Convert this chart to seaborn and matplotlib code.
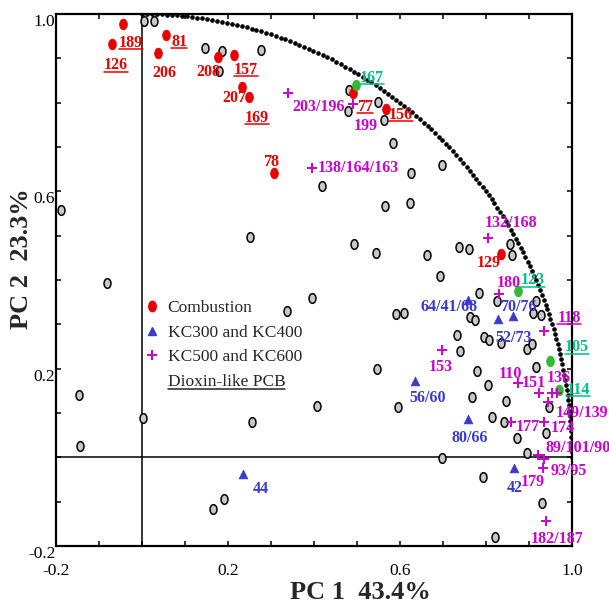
import numpy as np
import pandas as pd
import seaborn as sns
import matplotlib.pyplot as plt
from matplotlib.path import Path
from matplotlib.lines import Line2D
from matplotlib.transforms import ScaledTranslation, IdentityTransform

# %%
# loadings
comb_labels = ["189", "126", "81", "206", "208", "157", "207", "169", "78", "77", "156", "129"]
comb_pc1 = [-0.044, -0.070, 0.056, 0.037, 0.177, 0.214, 0.233, 0.249, 0.307, 0.491, 0.567, 0.835]
comb_pc2 = [0.978, 0.932, 0.953, 0.912, 0.903, 0.908, 0.835, 0.813, 0.641, 0.822, 0.786, 0.459]

green_labels = ["167", "123", "105", "114"]
green_pc1 = [0.498, 0.874, 0.949, 0.970]
green_pc2 = [0.840, 0.375, 0.217, 0.152]

kc34_labels = ["64/41/68", "70/76", "52/73", "56/60", "80/66", "42", "44"]
kc34_pc1 = [0.758, 0.863, 0.828, 0.635, 0.758, 0.865, 0.235]
kc34_pc2 = [0.355, 0.319, 0.312, 0.172, 0.086, -0.024, -0.038]

kc56_labels = ["203/196", "199", "138/164/163", "132/168", "180", "118", "153", "110",
               "151", "136", "", "149/139", "177", "174", "89/101/90", "93/95", "179", "182/187"]
kc56_pc1 = [0.340, 0.491, 0.395, 0.805, 0.830, 0.935, 0.698, 0.874,
            0.923, 0.953, 0.965, 0.944, 0.858, 0.935, 0.921, 0.935, 0.933, 0.940]
kc56_pc2 = [0.822, 0.797, 0.653, 0.495, 0.368, 0.285, 0.242, 0.168,
            0.145, 0.145, 0.145, 0.125, 0.080, 0.080, 0.005, -0.004, -0.024, -0.144]

other_pc1 = [0.005, 0.028, 0.147, 0.186, 0.179, 0.277, 0.481, 0.479, 0.549, 0.563,
             0.584, 0.698, 0.626, 0.419, 0.565, 0.623, 0.493, 0.544, 0.663, 0.737,
             0.760, 0.693, 0.395, 0.784, 0.826, 0.856, 0.860, 0.916, 0.591, 0.609,
             0.763, 0.774, 0.909, 0.928, 0.733, 0.795, 0.807, 0.835, 0.895, 0.907,
             0.740, 0.916, 0.779, 0.805, 0.767, 0.847, 0.814, 0.842, 0.872, 0.940,
             0.947, 0.895, 0.698, 0.595, 0.793, 0.930, 0.821, 0.337, 0.547, 0.407,
             0.256, -0.188, -0.081, 0.251, -0.147, 0.002, -0.144, 0.191, 0.165]
other_pc2 = [0.984, 0.984, 0.923, 0.917, 0.872, 0.919, 0.829, 0.781, 0.802, 0.761,
             0.709, 0.659, 0.641, 0.612, 0.567, 0.574, 0.481, 0.461, 0.456, 0.474,
             0.470, 0.409, 0.359, 0.371, 0.353, 0.481, 0.456, 0.353, 0.323, 0.326,
             0.317, 0.310, 0.326, 0.321, 0.276, 0.271, 0.265, 0.258, 0.244, 0.256,
             0.240, 0.204, 0.195, 0.163, 0.136, 0.127, 0.091, 0.080, 0.044, 0.055,
             0.114, 0.010, -0.001, 0.114, -0.044, -0.103, -0.180, 0.330, 0.199, 0.116,
             0.080, 0.558, 0.393, 0.497, 0.141, 0.089, 0.026, -0.094, -0.117]

dioxin_like = {"77", "81", "126", "169", "105", "114", "118", "123", "156", "157", "167", "189"}

# label placement, pixels from the marker (x right, y up)
label_offsets = {
    "189": (8, -19), "126": (4, -21), "81": (13, -7), "206": (6, -20), "208": (-10, -15),
    "157": (12, -15), "207": (-8, -11), "169": (8, -21), "78": (-3, 11), "77": (12, -14),
    "156": (15, -6), "129": (-12, -9),
    "167": (16, 7), "123": (15, 11), "105": (27, 14), "114": (19, 0),
    "64/41/68": (-19, -7), "70/76": (5, 9), "52/73": (16, -19), "56/60": (13, -17),
    "80/66": (2, -19), "42": (1, -20), "44": (18, -15),
    "203/196": (30, -14), "199": (13, -22), "138/164/163": (46, 0), "132/168": (23, 15),
    "180": (10, 11), "118": (25, 13), "153": (-1, -17), "110": (-7, 9), "151": (-5, 10),
    "136": (7, 15), "149/139": (34, -11), "177": (17, -5), "174": (19, -6),
    "89/101/90": (40, 7), "93/95": (25, -12), "179": (-10, -14), "182/187": (11, -18),
}

RED, GREEN, TEAL, BLUE, MAGENTA = "#E80000", "#33B833", "#00BF8C", "#3A3ACC", "#CC00CC"

comb = pd.DataFrame({"pc1": comb_pc1, "pc2": comb_pc2, "label": comb_labels})
green = pd.DataFrame({"pc1": green_pc1, "pc2": green_pc2, "label": green_labels})
kc34 = pd.DataFrame({"pc1": kc34_pc1, "pc2": kc34_pc2, "label": kc34_labels})
kc56 = pd.DataFrame({"pc1": kc56_pc1, "pc2": kc56_pc2, "label": kc56_labels})
other = pd.DataFrame({"pc1": other_pc1, "pc2": other_pc2})

# %%
sns.set_style("ticks")
plt.rcParams["font.family"] = ["Liberation Serif", "DejaVu Serif"]

th = np.linspace(0, 2 * np.pi, 40)
ellipse = Path(np.column_stack([0.72 * np.cos(th), np.sin(th)]), closed=True)

fig, ax = plt.subplots(figsize=(6.09, 6.04), dpi=100)
fig.subplots_adjust(left=0.092, right=0.939, bottom=0.096, top=0.977)

ax.axvline(0, color="black", lw=1.1, zorder=1)
ax.axhline(0, color="black", lw=1.1, zorder=1)
# unit circle guide
t = np.linspace(0, np.pi / 2, 135)
ax.plot(np.cos(t), np.sin(t), ls="none", marker="o", ms=2.3, color="black", zorder=2)

sns.scatterplot(data=other, x="pc1", y="pc2", marker=ellipse, s=48, color="#C8C8C8",
                edgecolor="black", linewidth=1.1, ax=ax, zorder=3)
sns.scatterplot(data=comb, x="pc1", y="pc2", marker=ellipse, s=60, color=RED,
                edgecolor=RED, linewidth=0.5, ax=ax, zorder=4)
sns.scatterplot(data=green, x="pc1", y="pc2", marker=ellipse, s=60, color=GREEN,
                edgecolor=GREEN, linewidth=0.5, ax=ax, zorder=4)
sns.scatterplot(data=kc34, x="pc1", y="pc2", marker="^", s=40, color=BLUE,
                edgecolor=BLUE, linewidth=0.5, ax=ax, zorder=4)
sns.scatterplot(data=kc56, x="pc1", y="pc2", marker="+", s=55, color=MAGENTA,
                linewidth=1.4, ax=ax, zorder=4)

underlined = []
for df, col in [(comb, RED), (green, TEAL), (kc34, BLUE), (kc56, MAGENTA)]:
    for x, y, lbl in zip(df["pc1"], df["pc2"], df["label"]):
        if not lbl:
            continue
        txt = ax.annotate(lbl, (x, y), xytext=label_offsets[lbl], textcoords="offset pixels",
                          ha="center", va="center", fontsize=11.5, fontweight="bold",
                          color=col, zorder=5)
        if lbl in dioxin_like:
            underlined.append(txt)

ax.set_xlim(-0.2, 1.0)
ax.set_ylim(-0.2, 1.0)
ax.set_xticks([-0.2, 0.2, 0.6, 1.0])
ax.set_yticks([-0.2, 0.2, 0.6, 1.0])
ax.set_xticks(np.arange(-0.2, 1.01, 0.1), minor=True)
ax.set_yticks(np.arange(-0.2, 1.01, 0.1), minor=True)
ax.xaxis.set_major_formatter(plt.FuncFormatter(lambda v, p: f"{v:.1f}"))
ax.yaxis.set_major_formatter(plt.FuncFormatter(lambda v, p: f"{v:.1f}"))
ax.tick_params(which="both", direction="in", top=True, right=True, length=3.5,
               width=1.1, color="black", labelsize=12.5, labelcolor="black")
ax.tick_params(axis="x", which="major", pad=12)
ax.tick_params(axis="y", which="major", pad=0.5)
for lab in ax.get_yticklabels():
    lab.set_transform(lab.get_transform() + ScaledTranslation(0, -0.06, fig.dpi_scale_trans))
for s in ax.spines.values():
    s.set_linewidth(1.6)
    s.set_color("black")

ax.set_xlabel("PC 1  43.4%", fontsize=19, fontweight="bold")
ax.set_ylabel("PC 2  23.3%", fontsize=19, fontweight="bold")
ax.xaxis.set_label_coords(0.59, -0.087)
ax.xaxis.label.set_va("center")
ax.yaxis.set_label_coords(-0.066, 0.541)
ax.yaxis.label.set_va("center")

handles = [
    Line2D([], [], ls="none", marker=ellipse, ms=7.5, color=RED),
    Line2D([], [], ls="none", marker="^", ms=6, color=BLUE),
    Line2D([], [], ls="none", marker="+", ms=7, mew=1.4, color=MAGENTA),
    Line2D([], [], ls="none"),
]
leg = ax.legend(handles, ["Combustion", "KC300 and KC400", "KC500 and KC600", "Dioxin-like PCB"],
                loc="upper left", bbox_to_anchor=(0.169, 0.463), frameon=False,
                fontsize=12.5, handlelength=1.0, handletextpad=0.4, labelspacing=0.5,
                borderpad=0, borderaxespad=0)
underlined.append(leg.get_texts()[3])

# underline dioxin-like labels
fig.canvas.draw()
for txt in underlined:
    bb = txt.get_window_extent()
    yl = bb.y0 + 1.5
    fig.add_artist(Line2D([bb.x0, bb.x1], [yl, yl], transform=IdentityTransform(),
                          color=txt.get_color(), lw=1.1))

fig.savefig("out.png", dpi=100)
